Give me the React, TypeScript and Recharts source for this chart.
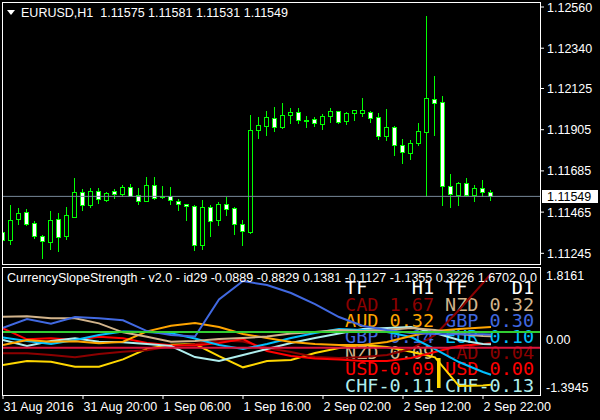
import React from "react";
import { ComposedChart, Bar, Line, XAxis, YAxis, ReferenceLine } from "recharts";

const FONT = "'Liberation Sans', Arial, sans-serif";
const MONO = "'DejaVu Sans Mono', monospace";

// EURUSD H1, 31 Aug 10:00 .. 2 Sep 23:00 (62 bars)
const opens = [
  1.11357, 1.11314, 1.11427, 1.11464, 1.11405, 1.11337, 1.11307, 1.11427, 1.11339, 1.1144,
  1.11571, 1.11505, 1.11576, 1.11531, 1.11578, 1.11562, 1.11597, 1.11555, 1.11526, 1.11608,
  1.11549, 1.11549, 1.11524, 1.11507, 1.11496, 1.11288, 1.11491, 1.11421, 1.11508, 1.11485,
  1.114, 1.11357, 1.11902, 1.11926, 1.11966, 1.11921, 1.11985, 1.11998, 1.11956, 1.1196,
  1.11937, 1.11976, 1.12003, 1.1195, 1.11996, 1.11996, 1.11998, 1.11971, 1.11873, 1.11918,
  1.11822, 1.11782, 1.11835, 1.11894, 1.12067, 1.12051, 1.11603, 1.11556, 1.11619, 1.11556,
  1.11592, 1.11575,
];
const highs = [
  1.11432, 1.11503, 1.11489, 1.11482, 1.11418, 1.11341, 1.11471, 1.11459, 1.11492, 1.11649,
  1.11588, 1.11594, 1.11594, 1.11571, 1.11587, 1.1161, 1.11615, 1.11594, 1.11652, 1.11652,
  1.11604, 1.11597, 1.11535, 1.11508, 1.11503, 1.11528, 1.11503, 1.11519, 1.11546, 1.11492,
  1.11423, 1.11983, 1.11973, 1.12005, 1.12026, 1.12047, 1.12021, 1.12021, 1.11978, 1.11973,
  1.11989, 1.12021, 1.12005, 1.11999, 1.1201, 1.12074, 1.12005, 1.11994, 1.12015, 1.11925,
  1.11854, 1.11848, 1.11941, 1.12512, 1.12192, 1.12085, 1.11668, 1.11624, 1.11645, 1.11608,
  1.11635, 1.11581,
];
const lows = [
  1.11286, 1.11296, 1.11403, 1.11398, 1.11328, 1.11222, 1.1127, 1.11259, 1.11323, 1.11438,
  1.11478, 1.11494, 1.11515, 1.11526, 1.11542, 1.11551, 1.11551, 1.11508, 1.11524, 1.11537,
  1.11539, 1.1151, 1.11478, 1.11424, 1.11264, 1.1127, 1.11339, 1.11398, 1.1145, 1.1135,
  1.11291, 1.11355, 1.11862, 1.11878, 1.119, 1.11916, 1.11942, 1.11942, 1.11921, 1.11926,
  1.1191, 1.11948, 1.11942, 1.11937, 1.11958, 1.1198, 1.11948, 1.11857, 1.11852, 1.11771,
  1.11729, 1.1175, 1.11825, 1.11551, 1.11878, 1.11505, 1.11494, 1.11505, 1.11553, 1.11526,
  1.11553, 1.11531,
];
const closes = [
  1.11314, 1.11421, 1.11459, 1.11403, 1.11336, 1.11312, 1.11421, 1.11334, 1.11448, 1.11571,
  1.11505, 1.11576, 1.11533, 1.11565, 1.11563, 1.11599, 1.11553, 1.11526, 1.11608, 1.11542,
  1.11545, 1.11528, 1.1151, 1.11496, 1.11288, 1.11491, 1.11416, 1.11508, 1.1148, 1.114,
  1.11363, 1.11902, 1.11928, 1.11973, 1.11921, 1.11982, 1.11998, 1.11955, 1.11954, 1.11939,
  1.11978, 1.12005, 1.11948, 1.11993, 1.12008, 1.12009, 1.11969, 1.11873, 1.11918, 1.11822,
  1.11787, 1.11832, 1.11896, 1.12073, 1.12049, 1.11603, 1.11563, 1.11619, 1.11558, 1.11592,
  1.11574, 1.11549,
];
const lastPrice = 1.11549;
const priceTicks = [1.1256, 1.1234, 1.12125, 1.11905, 1.11685, 1.11465, 1.11245];

// CurrencySlopeStrength, read every third bar
const slopeBars = [0, 3, 6, 9, 12, 15, 18, 21, 24, 27, 30, 33, 36, 39, 42, 45, 48, 51, 54, 57, 60, 61];
const usd = [0.286, 0.013, 0.038, -0.005, 0.078, 0.038, -0.081, -0.139, -0.144, -0.081, 0.02, -0.283, -0.41, -0.473, -0.498, -0.536, -0.536, -0.46, -0.308, -0.157, -0.106, -0.0889];
const eur = [0.058, -0.03, -0.106, -0.005, 0.121, 0.21, 0.197, 0.164, 0.033, -0.131, -0.233, -0.106, 0.046, 0.172, 0.273, 0.248, 0.197, 0.071, -0.233, -0.561, -0.814, -0.8829];
const gbp = [0.306, 0.526, 0.407, 0.576, 0.544, 0.493, 0.222, 0.121, 0.083, 1.019, 1.486, 1.385, 1.183, 0.905, 0.576, 0.349, 0.248, 0.172, 0.147, 0.142, 0.139, 0.1381];
const chf = [-0.005, -0.157, -0.03, 0.038, -0.048, -0.063, -0.106, -0.157, -0.435, -0.536, -0.384, -0.233, -0.081, 0.046, 0.159, 0.273, 0.298, 0.324, 0.172, -0.005, -0.106, -0.1127];
const jpy = [-0.637, -0.536, -0.554, -0.68, -0.68, -0.493, -0.225, -0.124, -0.106, -0.41, -0.695, -0.536, -0.511, -0.334, -0.207, -0.131, -0.182, -0.301, -0.442, -1.168, -1.155, -1.1355];
const aud = [-0.131, -0.005, -0.048, -0.038, -0.088, -0.048, 0.215, 0.356, 0.425, 0.324, 0.147, 0.046, -0.056, -0.106, -0.131, -0.131, -0.056, 0.096, 0.222, 0.273, 0.311, 0.3226];
const cad = [-0.341, -0.341, -0.384, -0.442, -0.359, -0.301, -0.265, -0.164, -0.106, -0.018, -0.043, -0.207, -0.308, -0.435, -0.46, -0.435, -0.384, -0.233, 0.121, 0.753, 1.436, 1.6702];
const nzd = [0.584, 0.594, 0.544, 0.544, 0.417, 0.19, 0.078, -0.048, -0.03, 0.02, 0.046, 0.083, 0.159, 0.197, 0.248, 0.222, 0.248, 0.298, 0.248, 0.147, 0.096, 0.0903];
const jpySpikeBar = 54.5;
const jpySpike = [-1.218, -0.46];
const slopeLevels = [0.2, -0.2];
const slopeTicks = [1.8161, 0, -1.3945];

const timeTicks = [0, 10, 20, 30, 40, 50, 60];
const timeLabels = ["31 Aug 2016", "31 Aug 20:00", "1 Sep 06:00", "1 Sep 16:00", "2 Sep 02:00", "2 Sep 12:00", "2 Sep 22:00"];

// strength table (7th row is cut by the panel edge)
const h1Table = ["CAD 1.67", "AUD 0.32", "GBP 0.14", "NZD 0.09", "USD-0.09", "CHF-0.11", "EUR-0.88"];
const d1Table = ["NZD 0.32", "GBP 0.30", "EUR 0.10", "CAD 0.04", "USD 0.00", "CHF-0.13", "JPY-0.20"];

const colors: Record<string, string> = {
  USD: "#FF0000",
  EUR: "#00BFFF",
  GBP: "#4169E1",
  CHF: "#AFEEEE",
  JPY: "#FFD700",
  AUD: "#FFA500",
  CAD: "#8B0000",
  NZD: "#D2B48C",
};

const candles = opens.map((open, i) => ({
  i,
  open,
  close: closes[i],
  high: highs[i],
  low: lows[i],
  range: [lows[i], highs[i]],
}));

const slopeData: any[] = slopeBars.map((i, k) => ({
  i,
  USD: usd[k],
  EUR: eur[k],
  GBP: gbp[k],
  CHF: chf[k],
  JPY: jpy[k],
  AUD: aud[k],
  CAD: cad[k],
  NZD: nzd[k],
}));
slopeData.push({ i: jpySpikeBar, spike: jpySpike });
slopeData.sort((a, b) => a.i - b.i);

const lineOrder = ["JPY", "CAD", "USD", "CHF", "EUR", "AUD", "NZD", "GBP"];

const Candle = (props: any) => {
  const { x, y, width, height, payload } = props;
  const { open, close, high, low } = payload;
  const ppu = height / (high - low);
  const cx = Math.floor(x + width / 2) + 0.5;
  const yo = y + (high - open) * ppu;
  const yc = y + (high - close) * ppu;
  const top = Math.round(Math.min(yo, yc)) + 0.5;
  const bottom = Math.max(Math.round(Math.max(yo, yc)) + 0.5, top + 1);
  const bear = close < open;
  return (
    <g>
      <line x1={cx} x2={cx} y1={Math.round(y)} y2={Math.round(y + height) + 1} stroke="#00FF00" />
      <rect x={cx - 2} y={top} width={4} height={bottom - top} fill={bear ? "#FFFFFF" : "#000000"} stroke="#00FF00" />
    </g>
  );
};

const PriceTick = (props: any) => {
  const { x, y, payload } = props;
  return (
    <text x={x} y={y + 4.5} fill="#FFFFFF" fontSize={12.5} fontFamily={FONT} textAnchor="start">
      {payload.value.toFixed(5)}
    </text>
  );
};

const SlopeTick = (props: any) => {
  const { x, y, payload } = props;
  const v = payload.value;
  const dy = v > 1 ? 12 : v < -1 ? -3 : 4.5;
  return (
    <text x={x - 1} y={y + dy} fill="#FFFFFF" fontSize={12.5} fontFamily={FONT} textAnchor="start">
      {v === 0 ? "0.00" : v.toFixed(4)}
    </text>
  );
};

const TimeTick = (props: any) => {
  const { x, y, payload } = props;
  const label = timeLabels[timeTicks.indexOf(payload.value)];
  return (
    <text x={x + 0.5} y={y + 10} fill="#FFFFFF" fontSize={12.5} fontFamily={FONT} textAnchor="start">
      {label}
    </text>
  );
};

const PriceTag = (props: any) => {
  const vb = props.viewBox || {};
  const x = (vb.x || 0) + (vb.width || 0);
  const y = vb.y || 0;
  return (
    <g>
      <rect x={x + 2} y={Math.round(y) - 6} width={56} height={13} fill="#FFFFFF" />
      <text x={x + 7} y={y + 4.5} fill="#000000" fontSize={12.5} fontFamily={FONT}>
        {lastPrice.toFixed(5)}
      </text>
    </g>
  );
};

const colorOf = (label: string) => colors[label.slice(0, 3)];
const NB = "\u00A0";

export default function App() {
  return (
    <div style={{ position: "absolute", left: 0, top: 0, width: 600, height: 420, background: "#000", overflow: "hidden" }}>
      {/* strength table sits under the indicator lines */}
      <svg width={600} height={420} style={{ position: "absolute", left: 0, top: 0, zIndex: 0 }}>
        <defs>
          <clipPath id="sub">
            <rect x={3} y={268} width={537} height={127} />
          </clipPath>
        </defs>
        <g clipPath="url(#sub)" fontFamily={MONO} fontSize={18.5}>
          <text x={345} y={294} fill="#FFFFFF">{"TF" + NB.repeat(4) + "H1"}</text>
          <text x={445} y={294} fill="#FFFFFF">{"TF" + NB.repeat(4) + "D1"}</text>
          {h1Table.map((t, k) => (
            <text key={"h" + k} x={345} y={310.5 + k * 16.2} fill={colorOf(t)}>{t.replace(" ", NB)}</text>
          ))}
          {d1Table.map((t, k) => (
            <text key={"d" + k} x={445} y={310.5 + k * 16.2} fill={colorOf(t)}>{t.replace(" ", NB)}</text>
          ))}
        </g>
      </svg>

      <div style={{ position: "absolute", left: 0, top: 0, zIndex: 1 }}>
        <ComposedChart width={600} height={265} data={candles} margin={{ top: 3, right: 0, bottom: 1, left: 3 }}>
          <XAxis type="number" dataKey="i" domain={[0, 67.125]} hide allowDataOverflow />
          <YAxis
            orientation="right"
            domain={[1.11188, 1.125814]}
            ticks={priceTicks}
            interval={0}
            width={60}
            axisLine={false}
            tickSize={4}
            tickMargin={3}
            tickLine={{ stroke: "#FFFFFF" }}
            tick={<PriceTick />}
            allowDataOverflow
          />
          <ReferenceLine y={lastPrice} stroke="#778899" label={(p: any) => <PriceTag {...p} />} />
          <Bar dataKey="range" barSize={5} shape={<Candle />} isAnimationActive={false} />
        </ComposedChart>
      </div>

      <div style={{ position: "absolute", left: 0, top: 265, zIndex: 1 }}>
        <ComposedChart width={600} height={155} data={slopeData} margin={{ top: 3, right: 0, bottom: 0, left: 3 }}>
          <XAxis
            type="number"
            dataKey="i"
            domain={[0, 67.125]}
            ticks={timeTicks}
            interval={0}
            height={25}
            axisLine={false}
            tickSize={4}
            tickMargin={2}
            tickLine={{ stroke: "#FFFFFF" }}
            tick={<TimeTick />}
            allowDataOverflow
          />
          <YAxis
            orientation="right"
            domain={[-1.3945, 1.8161]}
            ticks={slopeTicks}
            interval={0}
            width={60}
            axisLine={false}
            tickLine={false}
            tickSize={4}
            tickMargin={3}
            tick={<SlopeTick />}
            allowDataOverflow
          />
          <Bar dataKey="spike" barSize={4} fill="#FFD700" isAnimationActive={false} />
          {lineOrder.map((c) => (
            <Line
              key={c}
              dataKey={c}
              stroke={colors[c]}
              strokeWidth={2}
              dot={false}
              connectNulls
              type="linear"
              isAnimationActive={false}
            />
          ))}
          <ReferenceLine y={slopeLevels[0]} stroke="#32CD32" strokeWidth={2} />
          <ReferenceLine y={slopeLevels[1]} stroke="#DC143C" strokeWidth={2} />
        </ComposedChart>
      </div>

      <svg width={600} height={420} style={{ position: "absolute", left: 0, top: 0, zIndex: 2 }}>
        <polygon points="7,10 15,10 11,15" fill="#FFFFFF" />
        <text x={21} y={16.5} fill="#FFFFFF" fontSize={12} fontFamily={FONT} textLength={267} lengthAdjust="spacingAndGlyphs">
          {"EURUSD,H1" + NB + NB + "1.11575 1.11581 1.11531 1.11549"}
        </text>
        <text x={7} y={281.5} fill="#FFFFFF" fontSize={12} fontFamily={FONT} textLength={530} lengthAdjust="spacingAndGlyphs">
          CurrencySlopeStrength - v2.0 - id29 -0.0889 -0.8829 0.1381 -0.1127 -1.1355 0.3226 1.6702 0.0
        </text>
      </svg>

      <div style={{ position: "absolute", left: 2, top: 2, width: 539, height: 263, border: "1px solid #FFFFFF", boxSizing: "border-box", zIndex: 3, pointerEvents: "none" }} />
      <div style={{ position: "absolute", left: 2, top: 267, width: 539, height: 129, border: "1px solid #FFFFFF", boxSizing: "border-box", zIndex: 3, pointerEvents: "none" }} />
    </div>
  );
}
